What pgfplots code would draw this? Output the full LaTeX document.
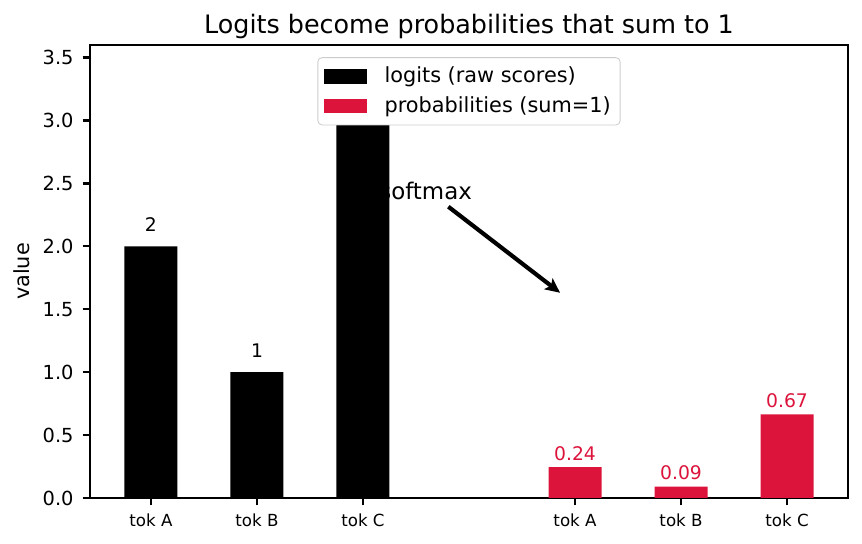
\documentclass[border=0pt]{standalone}
\usepackage{fontspec}
\setmainfont{DejaVu Sans}
\usepackage{pgfplots}
\pgfplotsset{compat=1.18}
\usetikzlibrary{arrows.meta}
\definecolor{crimson}{HTML}{DC143C}
\begin{document}
\begin{tikzpicture}
\useasboundingbox (-43.2pt,-22.08pt) rectangle (370.56pt,239.04pt);
\begin{axis}[
  at={(0pt,0pt)}, anchor=south west,
  scale only axis, width=363.84pt, height=217.44pt,
  xmin=-0.575, xmax=6.575, ymin=0, ymax=3.6,
  axis line style={line width=1.1pt},
  every tick/.style={black, line width=1.1pt},
  tick align=outside, major tick length=3.5pt,
  tick pos=left,
  xtick={0,1,2,4,5,6},
  xticklabels={tok A,tok B,tok C,tok A,tok B,tok C},
  ytick={0,0.5,1,1.5,2,2.5,3,3.5},
  /pgf/number format/assume math mode=true,
  yticklabel style={/pgf/number format/fixed, /pgf/number format/fixed zerofill, /pgf/number format/precision=1},
  yticklabel style={font=\fontsize{9.3}{10}\selectfont, anchor=east, inner sep=0pt, xshift=-4.2pt},
  xticklabel style={font=\fontsize{8}{9}\selectfont, anchor=base, inner sep=0pt, yshift=-10.3pt},
  ylabel={value},
  ylabel style={font=\fontsize{10}{12}\selectfont, at={(axis description cs:-0.0792,0.5)}, anchor=base, inner sep=0pt},
  title={Logits become probabilities that sum to 1},
  title style={font=\fontsize{12.2}{14}\selectfont, at={(axis description cs:0.5,1)}, anchor=base, yshift=-0.3pt, inner sep=0pt},
  legend style={at={(axis description cs:0.5,0.973)}, anchor=north, draw=black!20, rounded corners=2pt, fill=white,
    font=\fontsize{10}{12}\selectfont, inner xsep=3pt, inner ysep=3pt, row sep=2.1pt,
    nodes={inner sep=1.5pt},
    /tikz/every odd column/.append style={column sep=7pt}},
  legend cell align=left,
  legend image code/.code={\fill[#1, sharp corners] (0pt,-3.5pt) rectangle (20.5pt,3.5pt);},
]
\addplot[draw=none, forget plot] coordinates {(2.15,2.375)}
  node[pos=0, anchor=base west, font=\fontsize{11}{13}\selectfont, inner sep=0pt] {softmax};
\draw[-{Stealth[length=7pt,width=6.5pt,inset=1.5pt]}, line width=2pt] (axis cs:2.805,2.315) -- (axis cs:3.859,1.631);
\addplot[ybar, bar width=0.5, bar shift=0pt, fill=black, draw=none,
  nodes near coords,
  every node near coord/.append style={font=\fontsize{9}{10}\selectfont, black, inner sep=0pt, anchor=south, yshift=6.7pt}]
  coordinates {(0,2) (1,1) (2,3)};
\addlegendentry{logits (raw scores)}
\addplot[ybar, bar width=0.5, bar shift=0pt, fill=crimson, draw=none,
  nodes near coords={\pgfmathprintnumber[fixed, fixed zerofill, precision=2]{\pgfplotspointmeta}},
  every node near coord/.append style={font=\fontsize{9}{10}\selectfont, text=crimson, inner sep=0pt, anchor=south, yshift=2.9pt}]
  coordinates {(4,0.244728) (5,0.090031) (6,0.665241)};
\addlegendentry{probabilities (sum=1)}
\end{axis}
\end{tikzpicture}
\end{document}
